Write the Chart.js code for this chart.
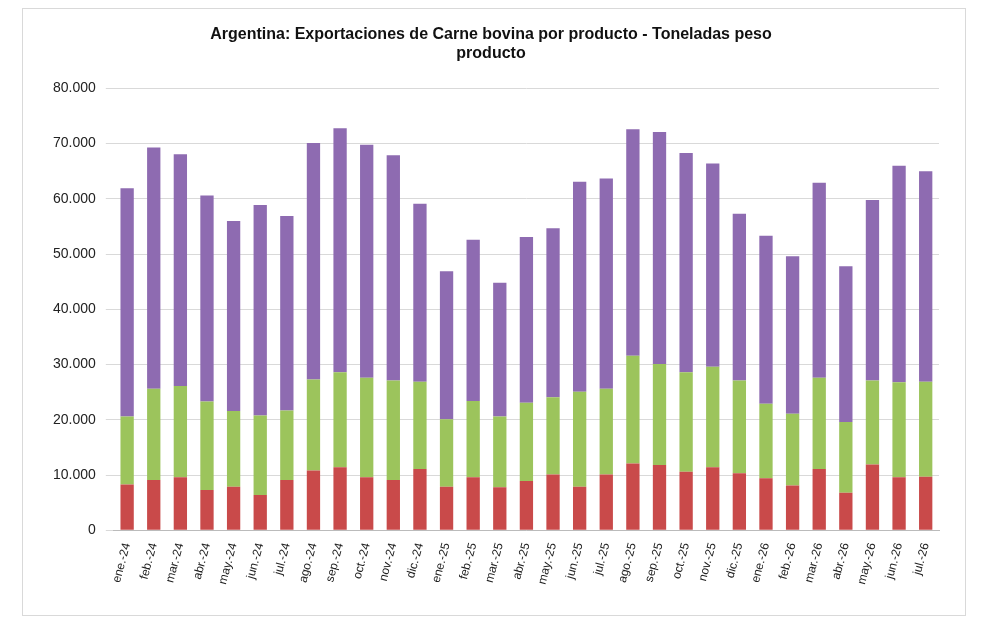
<!DOCTYPE html>
<html>
<head>
<meta charset="utf-8">
<script src="https://cdn.jsdelivr.net/npm/chart.js@4"></script>
<style>
  body { margin: 0; background: #fff; }
  #box { position: absolute; left: 22px; top: 8px; width: 942px; height: 606px; border: 1px solid #d9d9d9; }
</style>
</head>
<body>
<div id="box"><canvas id="c" width="942" height="606"></canvas></div>
<script>
const months = ['ene.-24','feb.-24','mar.-24','abr.-24','may.-24','jun.-24','jul.-24','ago.-24','sep.-24','oct.-24','nov.-24','dic.-24',
  'ene.-25','feb.-25','mar.-25','abr.-25','may.-25','jun.-25','jul.-25','ago.-25','sep.-25','oct.-25','nov.-25','dic.-25',
  'ene.-26','feb.-26','mar.-26','abr.-26','may.-26','jun.-26','jul.-26'];

// toneladas
const enfConHueso = [100,100,100,100,100,100,100,100,100,100,100,100,100,100,100,100,100,100,100,100,100,100,100,100,100,100,100,100,100,100,100];
const enfSinHueso = [8200,9000,9500,7200,7800,6300,9000,10700,11300,9500,9000,11000,7800,9500,7700,8800,10000,7800,10000,12000,11700,10500,11300,10200,9300,8000,11000,6700,11800,9500,9600];
const congConHueso = [12300,16500,16500,16000,13700,14400,12600,16500,17200,18000,18000,15800,12200,13800,12800,14200,14000,17200,15500,19500,18300,18000,18200,16800,13500,13000,16500,12800,15200,17200,17200];
const congSinHueso = [41300,43700,42000,37300,34400,38100,35200,42800,44200,42200,40800,32200,26800,29200,24200,30000,30600,38000,38100,41000,42000,39700,36800,30200,30400,28500,35300,28200,32700,39200,38100];

const fmt = v => v.toLocaleString('de-DE');

// legend keeps wide horizontal spacing but less height
const shortLegend = {
  id: 'shortLegend',
  beforeInit(chart) {
    const fit = chart.legend.fit;
    chart.legend.fit = function () { fit.call(this); this.height -= 46; };
  }
};

new Chart(document.getElementById('c').getContext('2d'), {
  type: 'bar',
  data: {
    labels: months,
    datasets: [
      { label: 'ENF Con Hueso', data: enfConHueso, backgroundColor: '#4a7fc1' },
      { label: 'ENF Sin Hueso', data: enfSinHueso, backgroundColor: '#c94a4a' },
      { label: 'Cong Con Hueso', data: congConHueso, backgroundColor: '#9cc45c' },
      { label: 'Cong Sin Hueso', data: congSinHueso, backgroundColor: '#8e6bb1' }
    ]
  },
  options: {
    responsive: false,
    animation: false,
    layout: { padding: { left: 20, right: 26, top: 12, bottom: 26 } },
    datasets: { bar: { barPercentage: 0.5, categoryPercentage: 1 } },
    plugins: {
      title: {
        display: true,
        text: ['Argentina: Exportaciones de Carne bovina por producto - Toneladas peso', 'producto'],
        font: { family: 'Liberation Sans', size: 16, weight: 'bold' },
        color: '#111',
        padding: { top: 4, bottom: 0 }
      },
      legend: {
        reverse: true,
        labels: { boxWidth: 8, boxHeight: 8, padding: 46, font: { family: 'Liberation Sans', size: 15 }, color: '#222' }
      },
      tooltip: { enabled: false }
    },
    scales: {
      x: {
        stacked: true,
        grid: { display: false },
        border: { color: '#bbb' },
        ticks: { maxRotation: 75, minRotation: 75, font: { family: 'Liberation Sans', size: 12 }, color: '#222' }
      },
      y: {
        stacked: true,
        min: 0, max: 80000,
        ticks: { stepSize: 10000, callback: v => fmt(v), font: { family: 'Liberation Sans', size: 14 }, color: '#222', padding: 10 },
        grid: { color: '#d9d9d9' },
        border: { display: false }
      }
    }
  },
  plugins: [shortLegend]
});
</script>
</body>
</html>
